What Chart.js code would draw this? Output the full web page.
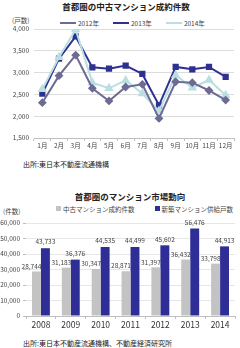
<!DOCTYPE html>
<html>
<head>
<meta charset="utf-8">
<script src="https://cdn.jsdelivr.net/npm/chart.js@4"></script>
<style>
  body { margin: 0; width: 240px; height: 348px; background: #fff; position: relative; overflow: hidden;
         font-family: "Noto Sans CJK JP", "Noto Sans", sans-serif; color: #333; }
  .abs { position: absolute; white-space: nowrap; }
  .title { font-size: 8.5px; font-weight: bold; color: #222; }
  .small { font-size: 6.5px; color: #444; }
  .src { font-size: 7px; color: #222; }
  .leg { display: inline-flex; align-items: center; margin-right: 14px; }
  .legline { display: inline-block; width: 16px; height: 2px; margin-right: 2px; }
  .legbox { display: inline-block; width: 5px; height: 5px; margin-right: 2px; }
  canvas { position: absolute; left: 0; }
</style>
</head>
<body>
<div class="abs title" style="left:0;width:252px;text-align:center;top:0px;">首都圏の中古マンション成約件数</div>
<div class="abs small" style="left:12px;top:15px;">(戸数)</div>
<div class="abs small" id="legend1" style="left:60px;top:16px;"></div>
<canvas id="lineChart" style="top:0;"></canvas>
<div class="abs src" style="left:23px;top:159px;">出所:東日本不動産流通機構</div>

<div class="abs title" style="left:0;width:260px;text-align:center;top:190px;">首都圏のマンション市場動向</div>
<div class="abs small" id="legend2" style="left:56px;top:203px;"></div>
<div class="abs small" style="left:3px;top:206px;">(件数)</div>
<canvas id="barChart" style="top:212px;"></canvas>
<div class="abs src" style="left:23px;top:338px;">出所:東日本不動産流通機構、不動産経済研究所</div>

<script>
const months = ['1月', '2月', '3月', '4月', '5月', '6月', '7月', '8月', '9月', '10月', '11月', '12月'];
const sales2012 = [2310, 2930, 3400, 2640, 2350, 2670, 2730, 1950, 2790, 2770, 2590, 2370];
const sales2013 = [2520, 3320, 3830, 3120, 3090, 3160, 2970, 2250, 3130, 3075, 3130, 2900];
const sales2014 = [2620, 3350, 3990, 2770, 2640, 2820, 2520, 2120, 2940, 2650, 2830, 2480];

const years = ['2008', '2009', '2010', '2011', '2012', '2013', '2014'];
const usedSales = [28744, 31183, 30347, 28871, 31397, 36432, 33798];
const newSupply = [43733, 36376, 44535, 44499, 45602, 56476, 44913];

const c2012 = '#6e6b93';
const c2013 = '#2e3192';
const c2014 = '#b9dfe1';
const cUsed = '#c3c3c3';
const cNew = '#2f2e96';

const tickFont = { family: "'Noto Sans CJK JP', sans-serif", size: 6.5 };

// legends
document.getElementById('legend1').innerHTML =
    [['2012年', c2012], ['2013年', c2013], ['2014年', c2014]].map(l =>
        '<span class="leg"><span class="legline" style="background:' + l[1] + '"></span>' + l[0] + '</span>').join('');
document.getElementById('legend2').innerHTML =
    [['中古マンション成約件数', cUsed], ['新築マンション供給戸数', cNew]].map(l =>
        '<span class="leg" style="margin-right:20px"><span class="legbox" style="background:' + l[1] + '"></span>' + l[0] + '</span>').join('');

function fmt(v) {
    return v.toLocaleString('en-US');
}

const lc = document.getElementById('lineChart');
lc.width = 240; lc.height = 152;
lc.style.width = '240px'; lc.style.height = '152px';

new Chart(lc.getContext('2d'), {
    type: 'line',
    data: {
        labels: months,
        datasets: [{
            label: '2012年', data: sales2012, borderColor: c2012, backgroundColor: c2012,
            borderWidth: 2, pointStyle: 'rectRot', pointRadius: 3, tension: 0
        }, {
            label: '2014年', data: sales2014, borderColor: c2014, backgroundColor: c2014,
            borderWidth: 2, pointStyle: 'triangle', pointRadius: 3.5, tension: 0
        }, {
            label: '2013年', data: sales2013, borderColor: c2013, backgroundColor: c2013,
            borderWidth: 2, pointStyle: 'rect', pointRadius: 3, tension: 0
        }]
    },
    options: {
        responsive: false,
        animation: false,
        locale: 'en-US',
        layout: { padding: { top: 29, right: 5, left: 0, bottom: 0 } },
        plugins: { legend: { display: false }, tooltip: { enabled: false } },
        scales: {
            x: {
                offset: true,
                grid: { offset: true, drawOnChartArea: false, drawTicks: true, tickLength: 3, color: '#bfbfbf' },
                border: { color: '#bfbfbf' },
                ticks: { font: tickFont, color: '#444', padding: 1, maxRotation: 0, autoSkip: false },
                afterFit: s => { s.height = 14; }
            },
            y: {
                min: 1500, max: 4000,
                grid: { color: '#dcdcdc', drawTicks: false },
                border: { display: false },
                ticks: { stepSize: 500, font: tickFont, color: '#444', padding: 5, callback: v => fmt(v) },
                afterFit: s => { s.width = 34; }
            }
        }
    }
});

// data labels on top of bars
const barLabels = {
    id: 'barLabels',
    afterDatasetsDraw(chart) {
        const ctx = chart.ctx;
        ctx.save();
        ctx.font = "6.5px 'Noto Sans CJK JP', sans-serif";
        ctx.fillStyle = '#444';
        ctx.textAlign = 'center';
        ctx.textBaseline = 'bottom';
        chart.data.datasets.forEach((ds, di) => {
            chart.getDatasetMeta(di).data.forEach((bar, i) => {
                const shift = di === 0 ? -5 : 0;
                ctx.fillText(fmt(ds.data[i]), bar.x + shift, bar.y - (di === 0 ? 2 : 3));
            });
        });
        ctx.restore();
    }
};

const bc = document.getElementById('barChart');
bc.width = 240; bc.height = 122;
bc.style.width = '240px'; bc.style.height = '122px';

new Chart(bc.getContext('2d'), {
    type: 'bar',
    data: {
        labels: years,
        datasets: [{
            label: '中古マンション成約件数', data: usedSales, backgroundColor: cUsed
        }, {
            label: '新築マンション供給戸数', data: newSupply, backgroundColor: cNew
        }]
    },
    options: {
        responsive: false,
        animation: false,
        locale: 'en-US',
        layout: { padding: { top: 11, right: 5, left: 0, bottom: 0 } },
        datasets: { bar: { barPercentage: 1, categoryPercentage: 0.6 } },
        plugins: { legend: { display: false }, tooltip: { enabled: false } },
        scales: {
            x: {
                grid: { offset: true, drawOnChartArea: false, drawTicks: true, tickLength: 3, color: '#bfbfbf' },
                border: { color: '#bfbfbf' },
                ticks: { font: { family: "'Noto Sans CJK JP', sans-serif", size: 8.5 }, color: '#333', padding: 1 },
                afterFit: s => { s.height = 18; }
            },
            y: {
                min: 0, max: 60000,
                grid: { color: '#e6e6e6', drawTicks: true, tickLength: 3, tickColor: '#bfbfbf' },
                border: { display: false },
                ticks: { stepSize: 10000, font: tickFont, color: '#444', padding: 3, callback: v => fmt(v) },
                afterFit: s => { s.width = 26; }
            }
        }
    },
    plugins: [barLabels]
});
</script>
</body>
</html>
